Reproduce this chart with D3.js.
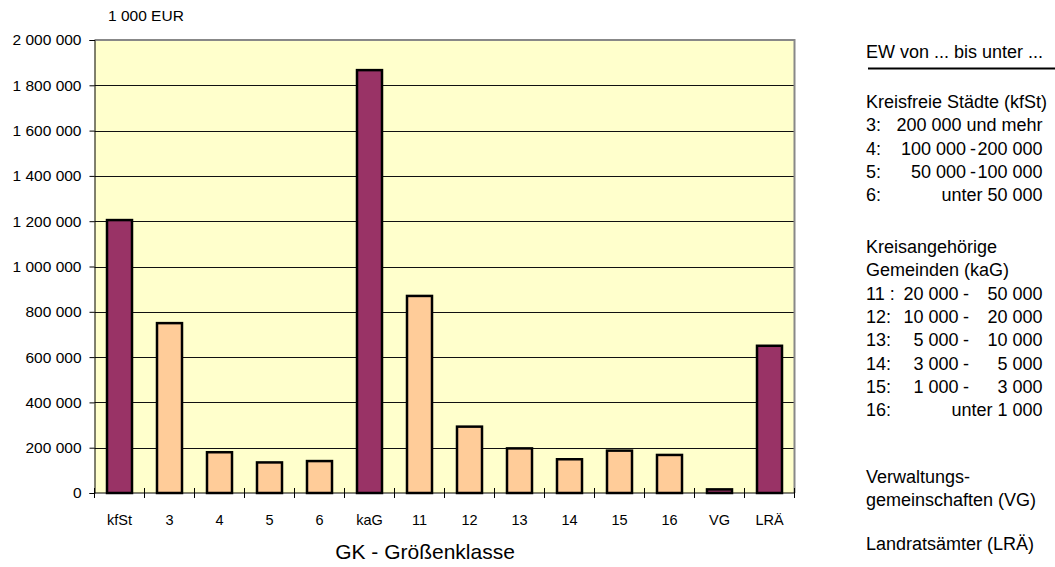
<!DOCTYPE html>
<html>
<head>
<meta charset="utf-8">
<script src="https://cdn.jsdelivr.net/npm/d3@7"></script>
<style>
  body { margin: 0; background: #fff; }
  svg { display: block; font-family: "Liberation Sans", Arial, sans-serif; }
</style>
</head>
<body>
<svg id="chart" width="1055" height="567"></svg>
<script>
// categories and values (1 000 EUR)
const categories = ["kfSt", "3", "4", "5", "6", "kaG", "11", "12", "13", "14", "15", "16", "VG", "LRÄ"];
const values = [1205000, 750000, 180000, 135000, 141000, 1867000, 870000, 293000, 197000, 149000, 187000, 168000, 16000, 650000];
const totals = ["kfSt", "kaG", "VG", "LRÄ"];
const yTicks = [0, 200000, 400000, 600000, 800000, 1000000, 1200000, 1400000, 1600000, 1800000, 2000000];

// legend rows: [label, left number, right number or text]
const legendCities = [
    ["3:", "", "200 000 und mehr"],
    ["4:", "100 000", "200 000"],
    ["5:", "50 000", "100 000"],
    ["6:", "", "unter 50 000"]
];
const legendMunicipalities = [
    ["11 :", "20 000", "50 000"],
    ["12:", "10 000", "20 000"],
    ["13:", "5 000", "10 000"],
    ["14:", "3 000", "5 000"],
    ["15:", "1 000", "3 000"],
    ["16:", "", "unter 1 000"]
];

const data = categories.map((c, i) => ({ cat: c, value: values[i] }));

const plot = { left: 94.5, right: 794.5, top: 40, bottom: 493 };

const locale = d3.formatLocale({ decimal: ",", thousands: " ", grouping: [3], currency: ["", ""] });
const fmt = locale.format(",");

const svg = d3.select("#chart");

const x = d3.scaleBand()
    .domain(categories)
    .range([plot.left, plot.right])
    .paddingInner(0.5)
    .paddingOuter(0.25);

const y = d3.scaleLinear()
    .domain([0, 2000000])
    .range([plot.bottom, plot.top]);

// plot background
svg.append("rect")
    .attr("x", plot.left)
    .attr("y", plot.top)
    .attr("width", plot.right - plot.left)
    .attr("height", plot.bottom - plot.top)
    .attr("fill", "#ffffcc");

// gridlines
svg.append("g")
    .selectAll("line")
    .data(yTicks.filter(d => d > 0 && d < 2000000))
    .join("line")
    .attr("x1", plot.left)
    .attr("x2", plot.right)
    .attr("y1", d => Math.round(y(d)) + 0.5)
    .attr("y2", d => Math.round(y(d)) + 0.5)
    .attr("stroke", "#111")
    .attr("stroke-width", 1);

// top and right border
svg.append("path")
    .attr("d", `M${plot.left},${plot.top} H${plot.right} V${plot.bottom}`)
    .attr("fill", "none")
    .attr("stroke", "#888")
    .attr("stroke-width", 2);

// bars
svg.append("g")
    .selectAll("rect")
    .data(data)
    .join("rect")
    .attr("x", d => x(d.cat))
    .attr("y", d => y(d.value))
    .attr("width", x.bandwidth())
    .attr("height", d => y(0) - y(d.value))
    .attr("fill", d => totals.includes(d.cat) ? "#993366" : "#ffcc99")
    .attr("stroke", "#000")
    .attr("stroke-width", 2.5);

// y axis
const yAxis = svg.append("g")
    .attr("transform", `translate(${plot.left},0)`)
    .call(d3.axisLeft(y).tickValues(yTicks).tickFormat(fmt).tickSize(5).tickPadding(8));
yAxis.select(".domain").attr("stroke", "#000");
yAxis.selectAll(".tick line").attr("stroke", "#000");
yAxis.selectAll("text")
    .attr("font-size", "15.5px")
    .attr("font-family", "Liberation Sans, Arial, sans-serif")
    .attr("fill", "#000");

// x axis line with ticks at band boundaries
const step = x.step();
const bounds = categories.map(c => x(c) - (step - x.bandwidth()) / 2).concat([plot.right]);
svg.append("line")
    .attr("x1", plot.left)
    .attr("x2", plot.right)
    .attr("y1", plot.bottom)
    .attr("y2", plot.bottom)
    .attr("stroke", "#000")
    .attr("stroke-width", 1);
svg.append("g")
    .selectAll("line")
    .data(bounds)
    .join("line")
    .attr("x1", d => d)
    .attr("x2", d => d)
    .attr("y1", plot.bottom - 5)
    .attr("y2", plot.bottom + 5)
    .attr("stroke", "#000");

svg.append("g")
    .selectAll("text")
    .data(categories)
    .join("text")
    .attr("x", d => x(d) + x.bandwidth() / 2)
    .attr("y", 525)
    .attr("text-anchor", "middle")
    .attr("font-size", "14.5px")
    .text(d => d);

// titles
svg.append("text")
    .attr("x", 108)
    .attr("y", 21)
    .attr("font-size", "15.5px")
    .text("1 000 EUR");

svg.append("text")
    .attr("x", 425)
    .attr("y", 559)
    .attr("text-anchor", "middle")
    .attr("font-size", "21px")
    .text("GK - Größenklasse");

// legend
const lg = svg.append("g").attr("font-size", "18px");
const lx = 866, rx = 1042.5;
const lineH = 23.3;

lg.append("text").attr("x", lx).attr("y", 58).text("EW von ... bis unter ...");
lg.append("line")
    .attr("x1", 868).attr("x2", 1055)
    .attr("y1", 68.5).attr("y2", 68.5)
    .attr("stroke", "#000").attr("stroke-width", 2);

function rangeRows(rows, y0, leftEnd, dashX) {
    rows.forEach((r, i) => {
        const yy = y0 + i * lineH;
        lg.append("text").attr("x", lx).attr("y", yy).text(r[0]);
        if (r[1]) {
            lg.append("text").attr("x", leftEnd).attr("y", yy).attr("text-anchor", "end").text(r[1]);
            lg.append("text").attr("x", dashX).attr("y", yy).attr("text-anchor", "middle").text("-");
        }
        lg.append("text").attr("x", rx).attr("y", yy).attr("text-anchor", "end").text(r[2]);
    });
}

lg.append("text").attr("x", lx).attr("y", 108).text("Kreisfreie Städte (kfSt)");
rangeRows(legendCities, 108 + lineH, 966, 973);

lg.append("text").attr("x", lx).attr("y", 253).text("Kreisangehörige");
lg.append("text").attr("x", lx).attr("y", 253 + lineH).text("Gemeinden (kaG)");
rangeRows(legendMunicipalities, 253 + 2 * lineH, 958.5, 966);

lg.append("text").attr("x", lx).attr("y", 483).text("Verwaltungs-");
lg.append("text").attr("x", lx).attr("y", 483 + lineH).text("gemeinschaften (VG)");

lg.append("text").attr("x", lx).attr("y", 550).text("Landratsämter (LRÄ)");
</script>
</body>
</html>
